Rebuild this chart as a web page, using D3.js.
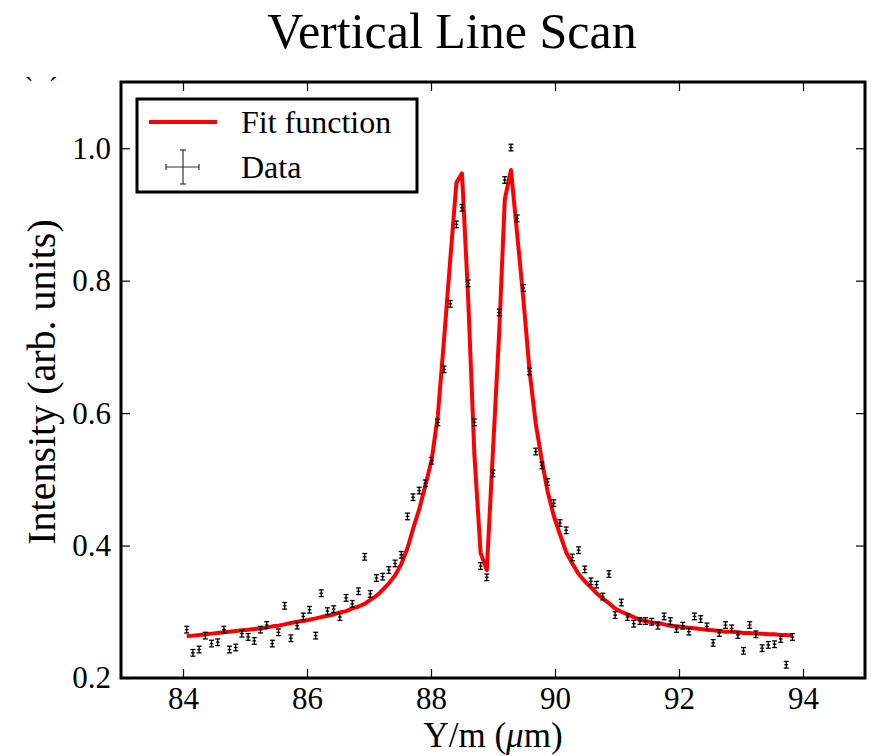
<!DOCTYPE html>
<html>
<head>
<meta charset="utf-8">
<script src="https://cdn.jsdelivr.net/npm/d3@7"></script>
<style>
  body { margin: 0; background: #fff; }
  svg text { font-family: "Liberation Serif", "Times New Roman", serif; fill: #000; }
</style>
</head>
<body>
<div id="chart"></div>
<script>
var width = 871, height = 756;

// scan positions (um)
var scanX = [84.06,84.16,84.26,84.36,84.46,84.56,84.66,84.75,84.85,84.95,
  85.05,85.15,85.25,85.35,85.44,85.54,85.64,85.74,85.84,85.94,
  86.04,86.14,86.23,86.33,86.43,86.53,86.63,86.73,86.83,86.93,
  87.02,87.12,87.22,87.32,87.42,87.52,87.62,87.71,87.81,87.91,
  88.01,88.11,88.21,88.31,88.41,88.50,88.60,88.70,88.80,88.90,
  89.00,89.10,89.19,89.29,89.39,89.49,89.59,89.69,89.79,89.88,
  89.98,90.08,90.18,90.28,90.38,90.48,90.58,90.67,90.77,90.87,
  90.97,91.07,91.17,91.27,91.37,91.46,91.56,91.66,91.76,91.86,
  91.96,92.06,92.16,92.25,92.35,92.45,92.55,92.65,92.75,92.85,
  92.95,93.04,93.14,93.24,93.34,93.44,93.54,93.64,93.73,93.83];

// measured intensity
var dataY = [0.273,0.238,0.243,0.264,0.252,0.254,0.273,0.243,0.246,0.267,
  0.262,0.256,0.273,0.280,0.252,0.269,0.309,0.260,0.279,0.293,
  0.303,0.264,0.328,0.301,0.304,0.292,0.321,0.312,0.331,0.383,
  0.327,0.351,0.353,0.363,0.373,0.386,0.444,0.473,0.483,0.494,
  0.528,0.586,0.666,0.765,0.885,0.910,0.796,0.586,0.369,0.352,
  0.509,0.752,0.952,1.001,0.894,0.789,0.663,0.542,0.521,0.496,
  0.464,0.434,0.423,0.382,0.393,0.364,0.346,0.341,0.323,0.357,
  0.295,0.314,0.292,0.282,0.286,0.286,0.285,0.279,0.293,0.286,
  0.274,0.279,0.270,0.293,0.289,0.278,0.253,0.268,0.280,0.275,
  0.265,0.241,0.280,0.266,0.245,0.250,0.251,0.259,0.220,0.262];

// fit function evaluated at the same positions
var fitY = [0.263,0.264,0.265,0.266,0.267,0.268,0.269,0.270,0.271,0.272,
  0.273,0.274,0.275,0.276,0.278,0.279,0.281,0.283,0.285,0.286,
  0.288,0.290,0.292,0.294,0.296,0.299,0.301,0.305,0.308,0.312,
  0.318,0.324,0.333,0.343,0.355,0.372,0.396,0.425,0.455,0.491,
  0.529,0.596,0.711,0.831,0.948,0.962,0.772,0.537,0.389,0.363,
  0.545,0.722,0.923,0.967,0.870,0.772,0.663,0.584,0.527,0.482,
  0.445,0.417,0.390,0.373,0.357,0.346,0.337,0.328,0.320,0.313,
  0.305,0.300,0.296,0.292,0.288,0.286,0.284,0.283,0.281,0.279,
  0.278,0.277,0.276,0.275,0.274,0.273,0.272,0.271,0.270,0.270,
  0.269,0.268,0.268,0.267,0.267,0.266,0.266,0.265,0.265,0.264];

var yErr = 0.005, xErr = 0.03;

var xTicks = [84, 86, 88, 90, 92, 94];
var yTicks = [0.2, 0.4, 0.6, 0.8, 1.0];

var box = {left: 121, right: 865, top: 82, bottom: 678};

var svg = d3.select("#chart")
  .append("svg")
  .attr("width", width)
  .attr("height", height);

var x = d3.scaleLinear().domain([83, 95]).range([box.left, box.right]);
var y = d3.scaleLinear().domain([0.2, 1.1]).range([box.bottom, box.top]);

// title
svg.append("text")
  .attr("x", 452)
  .attr("y", 48)
  .attr("text-anchor", "middle")
  .style("font-size", "50px")
  .text("Vertical Line Scan");

// stray marks at top left
svg.append("text").attr("x", 29).attr("y", 95).attr("text-anchor", "middle")
  .style("font-size", "26px").text("`");
svg.append("text").attr("x", 53).attr("y", 95).attr("text-anchor", "middle")
  .style("font-size", "26px").text("´");

// axes, ticks pointing inward
function styleAxis(g) {
  g.select(".domain").remove();
  g.selectAll(".tick line").attr("stroke", "#000").attr("stroke-width", 1.2);
  g.selectAll(".tick text").style("font-family", "Liberation Serif").style("font-size", "31px").attr("fill", "#000");
}

svg.append("g")
  .attr("transform", "translate(0," + box.bottom + ")")
  .call(d3.axisBottom(x).tickValues(xTicks).tickSizeInner(-9).tickSizeOuter(0).tickPadding(9))
  .call(styleAxis);

svg.append("g")
  .attr("transform", "translate(0," + box.top + ")")
  .call(d3.axisTop(x).tickValues(xTicks).tickSizeInner(-9).tickSizeOuter(0).tickFormat(""))
  .call(styleAxis);

svg.append("g")
  .attr("transform", "translate(" + box.left + ",0)")
  .call(d3.axisLeft(y).tickValues(yTicks).tickSizeInner(-9).tickSizeOuter(0).tickPadding(10).tickFormat(d3.format(".1f")))
  .call(styleAxis);

svg.append("g")
  .attr("transform", "translate(" + box.right + ",0)")
  .call(d3.axisRight(y).tickValues(yTicks).tickSizeInner(-9).tickSizeOuter(0).tickFormat(""))
  .call(styleAxis);

// fit curve
var pts = scanX.map(function(d, i) { return {x: d, y: dataY[i], fit: fitY[i]}; });

var line = d3.line()
  .x(function(d) { return x(d.x); })
  .y(function(d) { return y(d.fit); });

svg.append("path")
  .datum(pts)
  .attr("fill", "none")
  .attr("stroke", "#ff0000")
  .attr("stroke-width", 4)
  .attr("stroke-linejoin", "round")
  .attr("d", line);

// data with error bars
var bars = svg.append("g")
  .attr("stroke", "#000")
  .attr("stroke-width", 1.3)
  .selectAll("g")
  .data(pts)
  .enter().append("g");

bars.append("line")
  .attr("x1", function(d) { return x(d.x); })
  .attr("x2", function(d) { return x(d.x); })
  .attr("y1", function(d) { return y(d.y - yErr); })
  .attr("y2", function(d) { return y(d.y + yErr); });

bars.append("line")
  .attr("x1", function(d) { return x(d.x) - 2.5; })
  .attr("x2", function(d) { return x(d.x) + 2.5; })
  .attr("y1", function(d) { return y(d.y + yErr); })
  .attr("y2", function(d) { return y(d.y + yErr); });

bars.append("line")
  .attr("x1", function(d) { return x(d.x) - 2.5; })
  .attr("x2", function(d) { return x(d.x) + 2.5; })
  .attr("y1", function(d) { return y(d.y - yErr); })
  .attr("y2", function(d) { return y(d.y - yErr); });

bars.append("line")
  .attr("x1", function(d) { return x(d.x - xErr); })
  .attr("x2", function(d) { return x(d.x + xErr); })
  .attr("y1", function(d) { return y(d.y); })
  .attr("y2", function(d) { return y(d.y); });

// frame
svg.append("rect")
  .attr("x", box.left)
  .attr("y", box.top)
  .attr("width", box.right - box.left)
  .attr("height", box.bottom - box.top)
  .attr("fill", "none")
  .attr("stroke", "#000")
  .attr("stroke-width", 3);

// legend
var legend = svg.append("g");
legend.append("rect")
  .attr("x", 137).attr("y", 99)
  .attr("width", 280).attr("height", 93)
  .attr("fill", "#fff")
  .attr("stroke", "#000")
  .attr("stroke-width", 3);

legend.append("line")
  .attr("x1", 149).attr("x2", 217)
  .attr("y1", 122).attr("y2", 122)
  .attr("stroke", "#ff0000").attr("stroke-width", 4);

var lg = legend.append("g").attr("stroke", "#333").attr("stroke-width", 1.2);
lg.append("line").attr("x1", 166).attr("x2", 199).attr("y1", 167).attr("y2", 167);
lg.append("line").attr("x1", 183).attr("x2", 183).attr("y1", 150).attr("y2", 184);
lg.append("line").attr("x1", 166).attr("x2", 166).attr("y1", 164).attr("y2", 170);
lg.append("line").attr("x1", 199).attr("x2", 199).attr("y1", 164).attr("y2", 170);
lg.append("line").attr("x1", 180).attr("x2", 186).attr("y1", 150).attr("y2", 150);
lg.append("line").attr("x1", 180).attr("x2", 186).attr("y1", 184).attr("y2", 184);

legend.append("text").attr("x", 241).attr("y", 133)
  .style("font-size", "32px").text("Fit function");
legend.append("text").attr("x", 241).attr("y", 178)
  .style("font-size", "32px").text("Data");

// axis labels
svg.append("text")
  .attr("transform", "translate(55,382) rotate(-90)")
  .attr("text-anchor", "middle")
  .style("font-size", "40px")
  .text("Intensity (arb. units)");

var xl = svg.append("text")
  .attr("x", 493)
  .attr("y", 747)
  .attr("text-anchor", "middle")
  .style("font-size", "35px");
xl.append("tspan").text("Y/m (");
xl.append("tspan").style("font-style", "italic").text("μ");
xl.append("tspan").text("m)");
</script>
</body>
</html>
